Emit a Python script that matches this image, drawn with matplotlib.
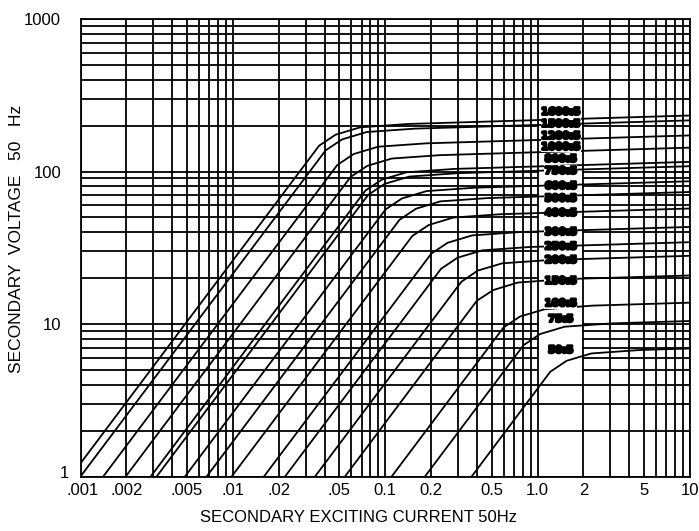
import matplotlib
matplotlib.use("Agg")
import matplotlib.pyplot as plt
import matplotlib.patheffects as pe
from matplotlib.patches import Rectangle
from matplotlib.transforms import ScaledTranslation

# ---- data ----
ratios = ["1600:5", "1500:5", "1200:5", "1000:5", "800:5", "750:5", "600:5", "500:5",
          "400:5", "300:5", "250:5", "200:5", "150:5", "100:5", "75:5", "50:5"]

cur_1600 = [0.001, 0.0368, 0.0472, 0.0685, 0.1417, 10]
volt_1600 = [1.22, 147.6, 174.3, 194.8, 205.0, 232.9]
cur_1500 = [0.001, 0.0406, 0.0521, 0.0755, 0.156, 10]
volt_1500 = [1.0, 137.5, 162.4, 181.5, 191.0, 216.4]
cur_1200 = [0.00141, 0.0484, 0.0620, 0.0899, 0.186, 10]
volt_1200 = [1.0, 110.2, 130.1, 145.4, 153.0, 172.4]
cur_1000 = [0.00198, 0.0593, 0.0761, 0.1103, 0.228, 10]
volt_1000 = [1.0, 92.2, 108.8, 121.6, 128.0, 143.4]
cur_800 = [0.00289, 0.0740, 0.0949, 0.1376, 0.285, 10]
volt_800 = [1.0, 74.9, 88.4, 98.8, 104.0, 115.7]
cur_750 = [0.00316, 0.0772, 0.0990, 0.1436, 0.297, 10]
volt_750 = [1.0, 70.2, 82.9, 92.6, 97.5, 108.3]
cur_600 = [0.00485, 0.1005, 0.1288, 0.1868, 0.386, 10]
volt_600 = [1.0, 56.4, 66.6, 74.4, 78.3, 86.3]
cur_500 = [0.00673, 0.124, 0.159, 0.230, 0.477, 10]
volt_500 = [1.0, 48.2, 57.0, 63.7, 67.0, 73.4]
cur_400 = [0.00982, 0.1506, 0.1931, 0.280, 0.579, 10]
volt_400 = [1.0, 37.8, 44.6, 49.9, 52.5, 57.2]
cur_300 = [0.0160, 0.2003, 0.2568, 0.372, 0.770, 10]
volt_300 = [1.0, 28.9, 34.1, 38.1, 40.1, 43.3]
cur_250 = [0.0220, 0.2323, 0.2978, 0.432, 0.893, 10]
volt_250 = [1.0, 23.0, 27.2, 30.4, 32.0, 34.4]
cur_200 = [0.0346, 0.3155, 0.4045, 0.5865, 1.2135, 10]
volt_200 = [1.0, 18.9, 22.4, 25.0, 26.3, 28.0]
cur_150 = [0.0544, 0.399, 0.512, 0.742, 1.536, 10]
volt_150 = [1.0, 14.2, 16.7, 18.7, 19.7, 20.8]
cur_100 = [0.1102, 0.598, 0.767, 1.112, 2.30, 10]
volt_100 = [1.0, 9.5, 11.2, 12.5, 13.2, 13.8]
cur_75 = [0.1822, 0.809, 1.037, 1.504, 3.11, 10]
volt_75 = [1.0, 7.27, 8.59, 9.6, 10.1, 10.46]
cur_50 = [0.369, 1.21, 1.551, 2.249, 4.653, 10]
volt_50 = [1.0, 4.86, 5.74, 6.41, 6.75, 6.91]

label_volts = [246.5, 205.6, 171.4, 145.2, 121.1, 101.1, 80.5, 66.7,
               53.6, 40.2, 32.3, 26.3, 19.2, 13.7, 10.8, 6.76]

xtick_vals = [0.001, 0.002, 0.005, 0.01, 0.02, 0.05, 0.1, 0.2, 0.5, 1, 2, 5, 10]
xtick_text = [".001", ".002", ".005", ".01", ".02", ".05", "0.1", "0.2", "0.5", "1.0", "2", "5", "10"]
ytick_vals = [1, 10, 100, 1000]
ytick_text = ["1", "10", "100", "1000"]

curves_i = [cur_1600, cur_1500, cur_1200, cur_1000, cur_800, cur_750, cur_600, cur_500,
            cur_400, cur_300, cur_250, cur_200, cur_150, cur_100, cur_75, cur_50]
curves_v = [volt_1600, volt_1500, volt_1200, volt_1000, volt_800, volt_750, volt_600, volt_500,
            volt_400, volt_300, volt_250, volt_200, volt_150, volt_100, volt_75, volt_50]

# ---- figure ----
plt.rcParams['font.family'] = ['Liberation Sans', 'DejaVu Sans']
fig = plt.figure(figsize=(6.99, 5.31), dpi=100)
ax = fig.add_axes([80.5/699, 54.5/531, (690-80.5)/699, (476.5-19)/531])
ax.set_xscale('log')
ax.set_yscale('log')
ax.set_xlim(0.001, 10)
ax.set_ylim(1, 1000)

lw = 1.3
ax.grid(True, which='both', color='black', linewidth=lw)
ax.set_axisbelow(True)
for s in ax.spines.values():
    s.set_linewidth(lw)

ax.set_xticks(xtick_vals)
ax.set_xticklabels(xtick_text)
ax.set_yticks(ytick_vals)
ax.set_yticklabels(ytick_text)
ax.tick_params(which='both', length=0)
ax.tick_params(axis='x', pad=5, labelsize=12)
ax.tick_params(axis='y', pad=14, labelsize=12)

# nudge the corner labels like the reference
xl0 = ax.get_xticklabels()[0]
xl0.set_transform(xl0.get_transform() + ScaledTranslation(0.02, 0, fig.dpi_scale_trans))
yl0 = ax.get_yticklabels()[0]
yl0.set_transform(yl0.get_transform() + ScaledTranslation(0.08, 0.04, fig.dpi_scale_trans))

# white label column between 1.0 and 2
ax.add_patch(Rectangle((1.025, 4.5), 0.94, 280, facecolor='white', edgecolor='none', zorder=1))

for ci, cv in zip(curves_i, curves_v):
    ax.plot(ci, cv, color='black', linewidth=lw, zorder=2, solid_joinstyle='round')

for name, yv in zip(ratios, label_volts):
    ax.text(1.42, yv, name, ha='center', va='center', fontsize=7.3, fontweight='bold',
            family='DejaVu Sans', color='black', zorder=3,
            bbox=dict(facecolor='white', edgecolor='none', pad=0.3),
            path_effects=[pe.withStroke(linewidth=1.8, foreground='black')])

fig.text(359/699, 1 - 518/531, "SECONDARY EXCITING CURRENT 50Hz", ha='center', va='center', fontsize=12)
fig.text(17/699, 1 - 239/531, "SECONDARY  VOLTAGE   50   Hz", ha='center', va='center',
         rotation=90, fontsize=12.5)

fig.savefig("out.png", dpi=100)
